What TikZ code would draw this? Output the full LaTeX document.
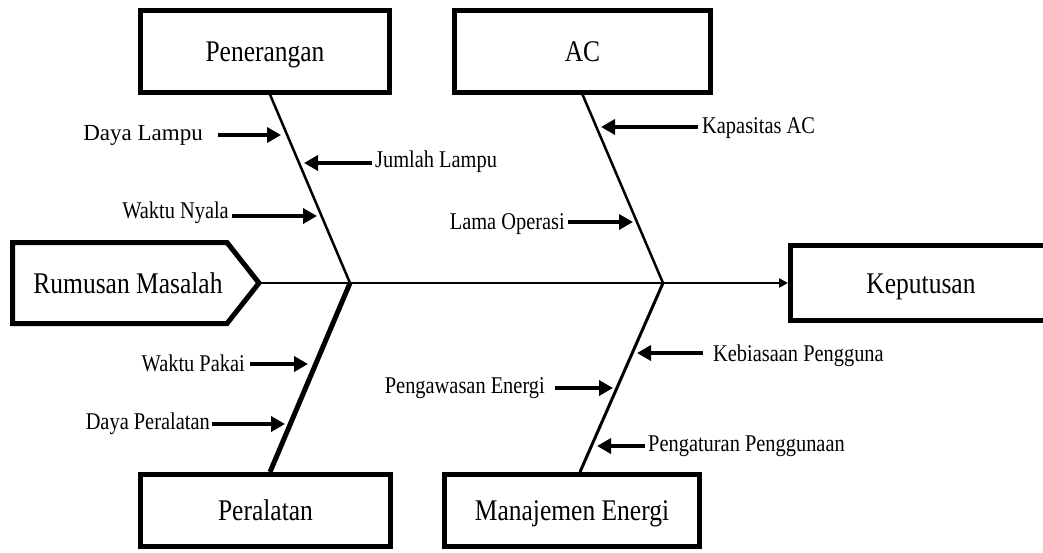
\documentclass[tikz,border=0pt]{standalone}
\usepackage{fontspec}
\setmainfont{Liberation Serif}[FakeStretch=0.85]
\newfontfamily\plainserif{Liberation Serif}
\usetikzlibrary{arrows.meta,calc}
\begin{document}
\begin{tikzpicture}[x=1pt,y=-1pt,
  box/.style={draw, line width=5pt, rectangle, inner sep=0pt, text height=20pt, text depth=0pt, font=\fontsize{30}{36}\selectfont},
  lbl/.style={inner sep=0pt, font=\fontsize{24}{28}\selectfont},
  rib/.style={line width=4pt, -{Triangle[length=14pt,width=15pt]}},
  bone/.style={line width=2.5pt},
]
\useasboundingbox (0,0) rectangle (1043,552);
% category boxes
\node[box, minimum width=249pt, minimum height=82pt] (pen) at (265,51) {Penerangan};
\node[box, minimum width=256pt, minimum height=82pt] (ac) at (582.5,51) {AC};
\node[box, minimum width=250pt, minimum height=72pt] (per) at (265.5,510.5) {Peralatan};
\node[box, minimum width=255pt, minimum height=72pt] (me) at (572,510.5) {Manajemen Energi};
\node[box, minimum width=290pt, minimum height=75pt] (kep) at (935.5,283) {};
\node[inner sep=0pt, text height=20pt, text depth=0pt, font=\fontsize{30}{36}\selectfont] (keptxt) at (921,283) {Keputusan};
% problem (pentagon)
\draw[line width=5pt, line join=miter] (12.5,242.5) -- (227,242.5) -- (259,283) -- (227,323.5) -- (12.5,323.5) -- cycle;
\coordinate (rmtip) at (259,283);
\node[inner sep=0pt, text height=20pt, text depth=0pt, font=\fontsize{30}{36}\selectfont] (rm) at (128,283) {Rumusan Masalah};
% spine
\draw[line width=2.5pt, -{Triangle[length=9pt,width=9pt]}] (rmtip) -- (kep.west);
\coordinate (j1) at (350,283);
\coordinate (j2) at (663,283);
% bones
\draw[bone] ([xshift=5pt]pen.south) -- (j1);
\draw[bone] (ac.south) -- (j2);
\draw[line width=5pt] (j1) -- ([xshift=4.5pt]per.north);
\draw[line width=3pt] (j2) -- ([xshift=8pt]me.north);
% rib targets
\coordinate (dlt) at (281,135);
\coordinate (jlt) at (304,163);
\coordinate (wnt) at (317,216);
\coordinate (kat) at (601,127);
\coordinate (lot) at (633,222);
\coordinate (wpt) at (308,364);
\coordinate (dpt) at (285,424);
\coordinate (pet) at (613,388);
\coordinate (kbt) at (637,353);
\coordinate (pgt) at (597,446);
% labels
\node[inner sep=0pt, font=\plainserif\fontsize{23}{27}\selectfont, anchor=base east] (dl) at (203,140) {Daya Lampu};
\node[lbl, anchor=base west] (jl) at (375,167) {Jumlah Lampu};
\node[lbl, anchor=base east] (wn) at (229,218) {Waktu Nyala};
\node[lbl, anchor=base west] (ka) at (702,133) {Kapasitas AC};
\node[lbl, anchor=base east] (lo) at (565,229) {Lama Operasi};
\node[lbl, anchor=base east] (wp) at (245,371) {Waktu Pakai};
\node[lbl, anchor=base east] (dp) at (210,429) {Daya Peralatan};
\node[lbl, anchor=base east] (pe) at (545,393) {Pengawasan Energi};
\node[lbl, anchor=base west] (kb) at (713,361) {Kebiasaan Pengguna};
\node[lbl, anchor=base west] (pg) at (648,451) {Pengaturan Penggunaan};
% ribs
\draw[rib, shorten <=15pt] (dl.east |- dlt) -- (dlt);
\draw[rib, shorten <=3pt] (jl.west |- jlt) -- (jlt);
\draw[rib, shorten <=3pt] (wn.east |- wnt) -- (wnt);
\draw[rib, shorten <=4pt] (ka.west |- kat) -- (kat);
\draw[rib, shorten <=3pt] (lo.east |- lot) -- (lot);
\draw[rib, shorten <=5pt] (wp.east |- wpt) -- (wpt);
\draw[rib, shorten <=2pt] (dp.east |- dpt) -- (dpt);
\draw[rib, shorten <=10pt] (pe.east |- pet) -- (pet);
\draw[rib, shorten <=10pt] (kb.west |- kbt) -- (kbt);
\draw[rib, shorten <=3pt] (pg.west |- pgt) -- (pgt);
\end{tikzpicture}
\end{document}
